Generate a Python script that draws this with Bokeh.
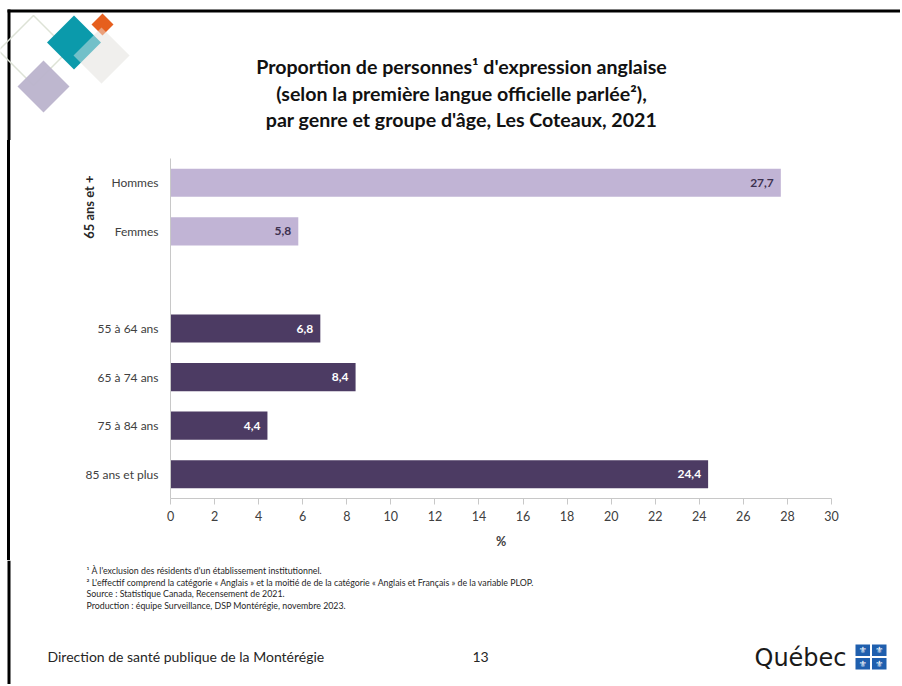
from bokeh.plotting import figure
from bokeh.layouts import column, row
from bokeh.models import (ColumnDataSource, FactorRange, Range1d, FixedTicker, CategoricalAxis, Div)
from bokeh.core.properties import value
from bokeh.embed import file_html
from bokeh.resources import INLINE

# ---------------- data ----------------
group_name = "65 ans et +"
gender_cats = ["Hommes", "Femmes"]
gender_vals = [27.7, 5.8]
age_cats = ["55 à 64 ans", "65 à 74 ans", "75 à 84 ans", "85 ans et plus"]
age_vals = [6.8, 8.4, 4.4, 24.4]
spacer = [" "]
x_ticks = [0, 2, 4, 6, 8, 10, 12, 14, 16, 18, 20, 22, 24, 26, 28, 30]

title_lines = [
    "Proportion de personnes¹ d'expression anglaise",
    "(selon la première langue officielle parlée²),",
    "par genre et groupe d'âge, Les Coteaux, 2021",
]
notes = [
    "¹ À l'exclusion des résidents d'un établissement institutionnel.",
    "² L'effectif comprend la catégorie « Anglais » et la moitié de de la catégorie « Anglais et Français » de la variable PLOP.",
    "Source : Statistique Canada, Recensement de 2021.",
    "Production : équipe Surveillance, DSP Montérégie, novembre 2023.",
]
footer_left = "Direction de santé publique de la Montérégie"
page_no = "13"
logo_text = "Québec"

LIGHT = "#c1b4d5"
DARK = "#4c3b63"
FONT = "Lato"
TOTAL_W = 900

def fmt(v):
    return f"{v:.1f}".replace(".", ",")

def deco_fig(w, h, y0, y1):
    f = figure(width=w, height=h, x_range=Range1d(0, w), y_range=Range1d(y1, y0),
               x_axis_type=None, y_axis_type=None, title=None,
               output_backend="svg", toolbar_location=None,
               min_border=0, min_border_left=0, min_border_right=0,
               min_border_top=0, min_border_bottom=0)
    f.outline_line_color = None
    f.background_fill_color = "white"
    f.border_fill_color = "white"
    f.grid.visible = False
    return f

# ---------------- top band (page y 0..140) ----------------
top = deco_fig(TOTAL_W, 140, 0, 140)
top.quad(left=[7], right=[TOTAL_W], top=[9], bottom=[12], fill_color="black", line_color=None)
top.quad(left=[7], right=[10], top=[9], bottom=[140], fill_color="black", line_color=None)

def dia(cx, cy, r):
    return [cx, cx + r, cx, cx - r], [cy - r, cy, cy + r, cy]

xs, ys = dia(33, 50, 35)
top.patch(xs + [xs[0]], ys + [ys[0]], fill_alpha=0, line_color="#dde2d6", line_width=1.5)
xs, ys = dia(43, 86, 26)
top.patch(xs, ys, fill_color="#bab3cc", fill_alpha=0.95, line_color=None)
xs, ys = dia(101, 55, 28)
top.patch(xs, ys, fill_color="#f0efed", line_color=None)
xs, ys = dia(73.5, 42, 27)
top.patch(xs, ys, fill_color="#0b9aab", line_color=None)
xs, ys = dia(102, 24, 11)
top.patch(xs, ys, fill_color="#e65f1e", line_color=None)
xs, ys = dia(101, 55, 28)
top.patch(xs, ys, fill_color="#f0efed", fill_alpha=0.45, line_color=None)

top.text(x=[461] * 3, y=[66, 93, 119], text=title_lines, text_align="center",
         text_baseline="middle", text_font=value(FONT), text_font_style="bold",
         text_font_size="19.6px", text_color="#111111")

# ---------------- chart (page y 140..560) ----------------
factors_top_down = gender_cats + spacer + age_cats
y_range = FactorRange(factors=list(reversed(factors_top_down)), range_padding=0)

p = figure(width=TOTAL_W - 12, height=420, y_range=y_range, x_range=Range1d(0, 30),
           output_backend="svg", toolbar_location=None, title=None,
           min_border_left=158, min_border_right=69, min_border_top=18, min_border_bottom=62)
p.outline_line_color = None
p.background_fill_color = "white"
p.border_fill_color = "white"
p.xgrid.grid_line_color = None
p.ygrid.grid_line_color = None

src_g = ColumnDataSource(dict(cat=gender_cats, v=gender_vals, lbl=[fmt(v) for v in gender_vals]))
src_a = ColumnDataSource(dict(cat=age_cats, v=age_vals, lbl=[fmt(v) for v in age_vals]))

p.hbar(y="cat", right="v", left=0, height=0.58, source=src_g, fill_color=LIGHT, line_color=None)
p.hbar(y="cat", right="v", left=0, height=0.58, source=src_a, fill_color=DARK, line_color=None)

p.text(x="v", y="cat", text="lbl", source=src_g, x_offset=-7, text_align="right",
       text_baseline="middle", text_font=value(FONT), text_font_style="bold",
       text_font_size="12px", text_color="#3d3150")
p.text(x="v", y="cat", text="lbl", source=src_a, x_offset=-7, text_align="right",
       text_baseline="middle", text_font=value(FONT), text_font_style="bold",
       text_font_size="12px", text_color="white")

ax = p.xaxis[0]
ax.ticker = FixedTicker(ticks=x_ticks)
ax.axis_line_color = "#c8c8c8"
ax.major_tick_line_color = "#c8c8c8"
ax.major_tick_in = 0
ax.major_tick_out = 6
ax.minor_tick_line_color = None
ax.major_label_text_font = FONT
ax.major_label_text_font_size = "12.5px"
ax.major_label_text_color = "#404040"
ax.major_label_standoff = 6
ax.axis_label = "%"
ax.axis_label_text_font = FONT
ax.axis_label_text_font_style = "bold"
ax.axis_label_text_font_size = "12.5px"
ax.axis_label_text_color = "#404040"
ax.axis_label_standoff = 10

ay = p.yaxis[0]
ay.axis_line_color = "#c8c8c8"
ay.major_tick_line_color = None
ay.major_tick_in = 0
ay.major_tick_out = 0
ay.minor_tick_line_color = None
ay.major_label_text_font = FONT
ay.major_label_text_font_size = "12px"
ay.major_label_text_color = "#404040"
ay.major_label_standoff = 12

# group label ("65 ans et +") on a second categorical axis: with factor_padding 1.5 the
# group factor sits at 6/7 of the height, i.e. between "Hommes" and "Femmes"
p.extra_y_ranges = {"grp": FactorRange(factors=[" ", group_name], factor_padding=1.5,
                                       range_padding=0)}
gax = CategoricalAxis(y_range_name="grp")
gax.axis_line_color = None
gax.major_tick_line_color = None
gax.major_tick_in = 0
gax.major_tick_out = 0
gax.minor_tick_line_color = None
gax.major_label_orientation = "vertical"
gax.major_label_text_font = FONT
gax.major_label_text_font_style = "bold"
gax.major_label_text_font_size = "13px"
gax.major_label_text_color = "#262626"
gax.major_label_standoff = -15
p.add_layout(gax, "left")

# left slide border beside the chart (3px black bar, 7px from the edge)
strip = row(Div(text="", width=7, height=420, margin=0),
            Div(text="", width=3, height=420, margin=0, styles={"background-color": "black"}),
            Div(text="", width=2, height=420, margin=0), spacing=0)

# ---------------- bottom band (page y 560..684) ----------------
bot = deco_fig(TOTAL_W, 124, 560, 684)
bot.quad(left=[7], right=[10], top=[560], bottom=[684], fill_color="black", line_color=None)
bot.text(x=[86] * 4, y=[570, 581.5, 593, 604.5], text=notes, text_align="left",
         text_baseline="middle", text_font=value(FONT), text_font_size="8.8px",
         text_color="#262626")
bot.text(x=[47], y=[656], text=[footer_left], text_align="left", text_baseline="middle",
         text_font=value(FONT), text_font_size="14px", text_color="#262626")
bot.text(x=[480], y=[656], text=[page_no], text_align="center", text_baseline="middle",
         text_font=value(FONT), text_font_size="14px", text_color="#262626")
bot.text(x=[754], y=[657], text=[logo_text], text_align="left", text_baseline="middle",
         text_font=value("DejaVu Sans"), text_font_size="24px", text_color="#1a1a1a")
QBLUE = "#1f5fae"
fl, fr, ft, fb, fx, fy = [], [], [], [], [], []
for (l, r) in [(855, 869.5), (871.5, 886)]:
    for (t, b) in [(644, 655.5), (657.5, 669)]:
        fl.append(l); fr.append(r); ft.append(t); fb.append(b)
        fx.append((l + r) / 2); fy.append((t + b) / 2)
bot.quad(left=fl, right=fr, top=ft, bottom=fb, fill_color=QBLUE, line_color=None)
bot.text(x=fx, y=fy, text=["⚜"] * 4, text_align="center", text_baseline="middle",
         text_font=value("DejaVu Sans"), text_font_size="9px", text_color="white")

layout = column(top, row(strip, p, spacing=0), bot, spacing=0)

open("out.html", "w").write(file_html(layout, INLINE))
